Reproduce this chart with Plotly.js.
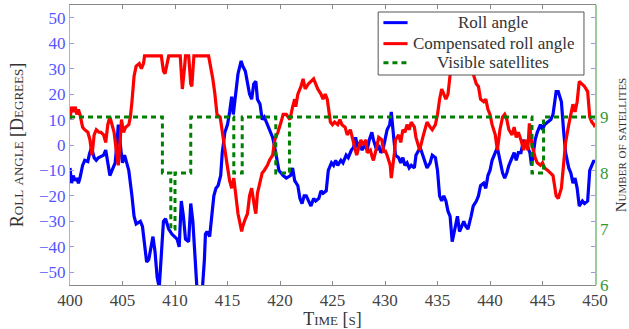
<!DOCTYPE html>
<html>
<head>
<meta charset="utf-8">
<script src="https://cdn.plot.ly/plotly-3.0.1.min.js"></script>
<style>html,body{margin:0;padding:0;background:#fff;}#chart{width:629px;height:329px;}</style>
</head>
<body>
<div id="chart"></div>
<script>
// ---- data ----
const seriesNames = ["Roll angle", "Compensated roll angle", "Visible satellites"];

const rollTime = [400.0,400.15,400.3,400.5,400.65,400.8,400.95,401.2,401.4,401.7,401.85,402.05,402.3,402.5,402.7,402.95,403.2,403.4,403.6,403.8,404.0,404.3,404.5,404.6,404.85,405.0,405.2,405.4,405.6,405.9,406.1,406.3,406.7,406.9,407.1,407.3,407.5,407.7,407.9,408.1,408.3,408.5,408.7,408.9,409.1,409.4,409.7,410.0,410.2,410.4,410.6,410.8,411.0,411.3,411.5,411.7,411.9,412.1,412.4,412.6,412.8,412.9,413.05,413.3,413.5,413.7,413.9,414.1,414.35,414.5,414.75,415.0,415.2,415.4,415.55,415.8,416.0,416.3,416.45,416.7,416.9,417.1,417.3,417.5,417.7,417.85,418.1,418.3,418.5,418.8,419.0,419.3,419.5,419.7,419.9,420.1,420.3,420.6,421.0,421.2,421.4,421.7,421.9,422.1,422.3,422.5,422.7,422.95,423.2,423.4,423.7,423.9,424.1,424.4,424.6,424.9,425.1,425.3,425.5,425.8,426.0,426.3,426.5,426.8,427.0,427.2,427.4,427.6,427.8,428.1,428.3,428.5,428.75,428.9,429.2,429.4,429.6,429.8,430.0,430.2,430.45,430.6,430.85,431.0,431.3,431.5,431.7,431.9,432.1,432.3,432.5,432.8,432.95,433.2,433.35,433.6,433.8,434.0,434.3,434.5,434.8,435.0,435.2,435.4,435.6,435.8,436.0,436.2,436.4,436.7,436.9,437.1,437.3,437.5,437.7,437.9,438.2,438.4,438.7,438.9,439.1,439.4,439.6,439.8,440.0,440.2,440.5,440.7,440.95,441.2,441.4,441.6,441.8,442.1,442.3,442.5,442.7,442.95,443.2,443.4,443.6,443.8,443.95,444.1,444.3,444.5,444.8,445.0,445.2,445.5,445.8,446.0,446.3,446.5,446.8,447.0,447.2,447.5,447.7,447.9,448.1,448.3,448.5,448.8,449.0,449.3,449.5,449.7,449.9,450.0];
const rollAngle = [-9,-15,-12,-14,-13,-15,-13,-8,-6,-6.5,-3.5,-1,-5,-6,-5,-4.5,-4,-2,-8,-12,-10,-7,2,8,-2,-7,-4,-7,-10,-20,-28,-31,-30,-32,-40,-46,-45,-40,-36,-42,-52,-56,-45,-30,-29,-33,-35,-36,-37,-40,-22,-28,-37,-38,-23,-30,-45,-57,-58,-57,-45,-35,-34,-36,-28,-20,-17,-16,-12,-3,5,8,13,19,12,22,28,33,31,29,24,20,18,24,25,18,16,10,11,8,6,3,-1,-5,-10,-11,-12,-13,-12,-9,-14,-16,-21,-23,-20,-20,-22,-24,-21,-22,-21,-18,-19,-18,-10,-7,-8,-6,-8,-6,-7,-4,-5,-2,-1,3,-1,1,-2,0,-2,2,5,2,-2,0,-3,-2,2,6,8,13,2,-4,-5,-7,-5,-8,-7,-9,-8,-9,-4,-2,-1,-4,-7,-9,-7,-4,-5,-10,-20,-22,-20,-22,-26,-28,-38,-32,-28,-34,-32,-30,-32,-33,-28,-24,-22,-20,-16,-15,-17,-12,-10,-6,-3,-1,-6,-11,-13,-11,-8,-5,-3,-6,-3,-3,2,0,-1,-3,-8,-4,2,5,8,6,8,9,10,12,21,21,17,6,-3,-9,-11,-15,-13,-17,-24,-22,-23,-22,-10,-8,-6,-7];

const compTime = [400.0,400.15,400.3,400.5,400.65,400.8,400.95,401.2,401.4,401.7,401.9,402.1,402.3,402.5,402.75,402.95,403.2,403.4,403.6,403.8,404.0,404.2,404.4,404.6,404.8,404.9,405.1,405.3,405.6,405.75,405.9,406.1,406.3,406.6,406.8,407.0,407.1,408.7,408.9,409.05,409.2,409.4,410.5,410.7,410.9,411.0,411.3,411.5,411.6,411.8,413.2,413.4,413.6,413.8,414.0,414.3,414.5,414.7,414.9,415.2,415.4,415.6,415.8,416.0,416.35,416.45,416.7,416.9,417.1,417.3,417.6,417.7,417.85,418.1,418.3,418.5,418.8,419.0,419.3,419.5,419.8,420.1,420.3,420.6,420.95,421.2,421.4,421.5,421.7,422.0,422.2,422.4,422.7,422.95,423.2,423.4,423.6,423.9,424.1,424.3,424.5,424.8,425.0,425.2,425.5,425.7,425.9,426.2,426.4,426.7,426.9,427.1,427.3,427.5,427.7,427.9,428.2,428.3,428.6,428.8,428.9,429.2,429.4,429.7,429.9,430.0,430.2,430.5,430.6,430.9,431.0,431.3,431.5,431.7,431.9,432.1,432.3,432.5,432.8,432.95,433.2,433.3,433.6,433.8,434.0,434.3,434.5,434.8,435.0,435.2,435.4,435.6,435.8,436.0,436.2,436.4,436.7,436.9,437.1,437.4,437.7,437.9,438.2,438.4,438.7,438.9,439.1,439.4,439.6,439.8,440.0,440.2,440.5,440.7,440.95,441.2,441.4,441.6,441.8,442.1,442.3,442.5,442.7,442.95,443.2,443.4,443.6,443.75,444.0,444.3,444.5,444.8,445.0,445.2,445.5,445.8,446.0,446.3,446.5,446.8,447.0,447.2,447.5,447.7,447.9,448.1,448.3,448.5,448.8,449.0,449.3,449.5,449.7,449.9,450.0];
const compAngle = [10,15,13,15,12,14,12,7,6,5,2,-4,4,6,5,5,4,1,8,11,8,5,-2,-8,3,10,5,7,8,11,17,27,31,32,30,32,35,35,29,28,31,35,35,22,30,35,35,24,23,35,35,31,26,20,12,11,5,-2,-6,-14,-17,-13,-20,-27,-34,-32,-29,-27,-20,-17,-25,-27,-19,-14,-11,-10,-8,-6,-4,2,5,9,12,12,10,15,18,15,20,23,26,22,24,25,26,24,22,20,18,20,18,9,8,9,8,10,8,7,4,6,3,-1,-4,-1,2,0,2,-3,-2,-5,-6,-1,3,2,-3,-2,-4,-8,-13,-3,2,4,1,6,5,8,6,9,7,3,0,-2,3,6,9,7,6,8,12,18,22,20,18,20,29,35,33,31,35,33,32,33,30,28,24,23,18,17,18,14,12,8,4,-2,6,11,12,10,6,4,7,3,5,2,-2,2,-2,8.5,0,-5,-7,-8,-7,-9,-10,-11,-12,-20,-21,-17,-7,1,8,12,16,13,17,25,24,23,21,11,9,8,7];

const satTime  = [400, 408.8, 409.6, 410.0, 411.5, 415.6, 416.4, 419.6, 420.9, 444.0, 445.1, 450];
const satCount = [9, 8, 7, 8, 9, 8, 9, 8, 9, 8, 9, 9];

const xTicks = [400,405,410,415,420,425,430,435,440,445,450];
const yTicks = [-50,-40,-30,-20,-10,0,10,20,30,40,50];
const y2Ticks = [6,7,8,9];

// ---- styles ----
const FONT = "Liberation Serif";
const colors = ["#0000ff", "#ff0000", "#008000"];
const satDash = "5px,4px";

const traces = [
  {x: rollTime, y: rollAngle, type: "scatter", mode: "lines", name: seriesNames[0],
   line: {color: colors[0], width: 3.2}, showlegend: false, yaxis: "y"},
  {x: compTime, y: compAngle, type: "scatter", mode: "lines", name: seriesNames[1],
   line: {color: colors[1], width: 3.2}, showlegend: false, yaxis: "y"},
  {x: satTime, y: satCount, type: "scatter", mode: "lines", name: seriesNames[2],
   line: {color: colors[2], width: 3, dash: satDash, shape: "hv"}, showlegend: false, yaxis: "y2"}
];

// custom legend (box + samples + centred labels)
const lg = {x0: 0.587, x1: 0.979, y0: 0.75, y1: 0.975, sx0: 0.597, sx1: 0.643, tx: 0.806,
            rows: [0.937, 0.862, 0.794]};
const shapes = [{type: "rect", xref: "paper", yref: "paper", x0: lg.x0, x1: lg.x1, y0: lg.y0, y1: lg.y1,
                 fillcolor: "#ffffff", line: {color: "#555555", width: 1}, layer: "above"}];
const annotations = [];
seriesNames.forEach((nm, i) => {
  shapes.push({type: "line", xref: "paper", yref: "paper", x0: lg.sx0, x1: lg.sx1, y0: lg.rows[i], y1: lg.rows[i],
               line: {color: colors[i], width: 3, dash: i === 2 ? satDash : "solid"}, layer: "above"});
  annotations.push({xref: "paper", yref: "paper", x: lg.tx, y: lg.rows[i], text: nm, showarrow: false,
                    xanchor: "center", yanchor: "middle", font: {family: FONT, size: 17, color: "#333333"}});
});

const layout = {
  width: 629, height: 329,
  margin: {l: 70, r: 34, t: 5, b: 44},
  paper_bgcolor: "#ffffff", plot_bgcolor: "#ffffff",
  font: {family: FONT, size: 16, color: "#333333"},
  showlegend: false,
  xaxis: {
    range: [400, 450], tickvals: xTicks, ticks: "inside", ticklen: 4, tickcolor: "#888888",
    showline: true, linecolor: "#888888", linewidth: 1, mirror: "ticks",
    showgrid: false, zeroline: false,
    tickfont: {family: FONT, size: 17, color: "#444444"},
    title: {text: "Time [s]", font: {family: FONT, size: 18, color: "#333333", variant: "small-caps"}, standoff: 6}
  },
  yaxis: {
    range: [-55, 55], tickvals: yTicks, ticks: "inside", ticklen: 4, tickcolor: "#9999dd",
    showline: true, linecolor: "#aaaaff", linewidth: 1, mirror: "ticks",
    showgrid: false, zeroline: false,
    tickfont: {family: FONT, size: 17, color: "#5555ff"},
    title: {text: "Roll angle [Degrees]", font: {family: FONT, size: 18, color: "#333333", variant: "small-caps"}, standoff: 10}
  },
  yaxis2: {
    overlaying: "y", side: "right", range: [6, 11], tickvals: y2Ticks, ticks: "",
    showline: true, linecolor: "#99cc99", linewidth: 1.5,
    showgrid: false, zeroline: false,
    tickfont: {family: FONT, size: 17, color: "#339933"},
    title: {text: "Number of satellites", font: {family: FONT, size: 15, color: "#333333", variant: "small-caps"}, standoff: 14}
  },
  shapes: shapes,
  annotations: annotations
};

Plotly.newPlot("chart", traces, layout, {staticPlot: true, displayModeBar: false});
</script>
</body>
</html>
